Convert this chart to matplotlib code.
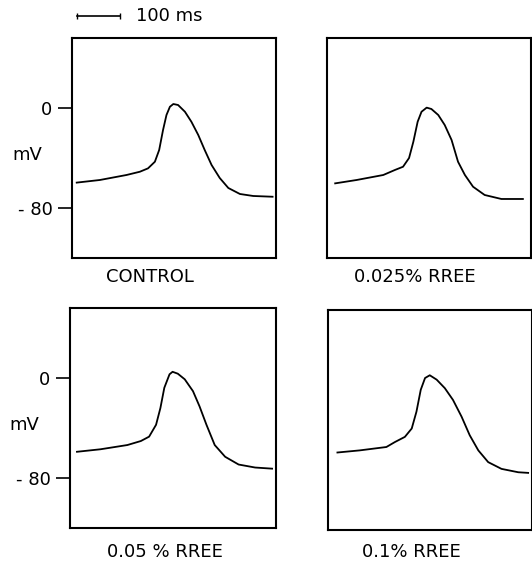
import matplotlib
matplotlib.use("Agg")
from matplotlib import pyplot as plt

# traces: time (ms) and membrane potential (mV)
t_control = [11, 65, 127, 158, 177, 193, 203, 212, 220, 228, 236, 247, 263, 278, 294,
             309, 325, 344, 364, 391, 422, 467]
v_control = [-59.7, -57.6, -53.6, -51, -48.3, -43, -33.6, -17.6, -5.6, 1, 3.2, 2.4, -3,
             -11, -21.6, -33.6, -45.6, -56, -64, -68.8, -70.4, -71]

t_025 = [19, 69, 131, 158, 177, 191, 201, 211, 220, 232, 243, 259, 274, 290, 305, 321,
         340, 367, 406, 456]
v_025 = [-60.3, -57.6, -53.6, -49.6, -47, -40, -27, -11, -3, 0.3, -0.8, -5.6, -13.6,
         -25.6, -43, -53.6, -63, -69.6, -72.8, -72.8]

t_05 = [16, 70, 132, 163, 182, 198, 208, 217, 229, 236, 248, 264, 283, 298, 314, 333,
        357, 388, 426, 465]
v_05 = [-59, -57, -53.6, -50.4, -46.9, -37.4, -24, -7.8, 3, 5, 3.5, -1, -10.5, -22.6,
        -37.4, -53.6, -63, -69.2, -71.6, -72.5]

t_1 = [22, 74, 136, 156, 179, 195, 206, 216, 226, 237, 253, 272, 291, 311, 330, 350,
       373, 404, 443, 466]
v_1 = [-58, -56.3, -53.6, -49.6, -45.5, -38.8, -25.3, -7.8, 1.6, 3.8, 0.3, -6.5, -15.9,
       -29.3, -44.2, -56.3, -65.7, -71.1, -73.8, -74.3]

labels = ["CONTROL", "0.025% RREE", "0.05 % RREE", "0.1% RREE"]
times = [t_control, t_025, t_05, t_1]
volts = [v_control, v_025, v_05, v_1]

yticks = [0, -80]
ytick_labels = ["0", "- 80"]
SCALE_MS = 100

fig = plt.figure(figsize=(5.32, 5.64), dpi=100)

# panel boxes in figure fractions (left, bottom, width, height)
boxes = [
    (0.1353, 0.5426, 0.3835, 0.390),
    (0.6147, 0.5426, 0.3835, 0.390),
    (0.1316, 0.0638, 0.3880, 0.390),
    (0.6165, 0.0603, 0.3835, 0.390),
]
# label positions (axes fraction)
label_x = [0.38, 0.43, 0.46, 0.41]
label_y = [-0.086, -0.086, -0.11, -0.10]

for i, (box, t, v, lab) in enumerate(zip(boxes, times, volts, labels)):
    ax = fig.add_axes(box)
    ax.plot(t, v, color="black", lw=1.3, solid_joinstyle="round")
    ax.set_xlim(0, 475)
    ax.set_ylim(-120, 56)
    ax.set_xticks([])
    for s in ax.spines.values():
        s.set_linewidth(1.5)
    if i % 2 == 0:
        ax.set_yticks(yticks)
        ax.set_yticklabels(ytick_labels, fontsize=13)
        ax.tick_params(axis="y", direction="out", length=10, width=1.2, pad=4)
        ax.text(-0.22, 0.47, "mV", transform=ax.transAxes, fontsize=13,
                ha="center", va="center")
    else:
        ax.set_yticks([])
    ax.text(label_x[i], label_y[i], lab, transform=ax.transAxes, fontsize=13,
            ha="center", va="center")
    if i == 0:
        # 100 ms scale bar above the first panel
        ax.plot([12, 12 + SCALE_MS], [73.6, 73.6], color="black", lw=1.2,
                clip_on=False)
        ax.plot([12, 12 + SCALE_MS], [73.6, 73.6], ls="none", marker="|",
                ms=4, color="black", clip_on=False)
        ax.text(12 + SCALE_MS + 38, 73.6, "100 ms", fontsize=13,
                ha="left", va="center")

fig.savefig("out.png", dpi=100)
